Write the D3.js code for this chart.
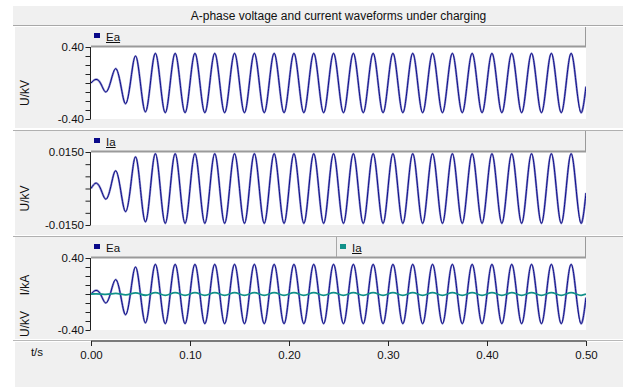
<!DOCTYPE html>
<html><head><meta charset="utf-8">
<script src="https://cdn.jsdelivr.net/npm/d3@7"></script>
<style>
body{margin:0;background:#fff;}
svg{display:block;font-family:"Liberation Sans",Arial,sans-serif;}
</style>
</head><body>
<svg id="chart" width="623" height="387"></svg>
<script>
// ---------- data ----------
const chartTitle = "A-phase voltage and current waveforms under charging";
const sampleStep = 0.005;            // seconds between samples (t = 0 … 0.50)
const xTickValues = [0, 0.1, 0.2, 0.3, 0.4, 0.5];
const xTickLabels = ["0.00", "0.10", "0.20", "0.30", "0.40", "0.50"];
const xAxisTitle = "t/s";

// Ea (kV)
const eaValues = [
  0, 0.04, -0.01, -0.10, 0.02, 0.16, -0.02, -0.23, 0.02, 0.30, -0.01, -0.32,
  0, 0.33, 0, -0.33, 0, 0.33, 0, -0.33, 0, 0.33, 0, -0.33, 0, 0.33, 0, -0.33,
  0, 0.33, 0, -0.33, 0, 0.33, 0, -0.33, 0, 0.33, 0, -0.33, 0, 0.33, 0, -0.33,
  0, 0.33, 0, -0.33, 0, 0.33, 0, -0.33, 0, 0.33, 0, -0.33, 0, 0.33, 0, -0.33,
  0, 0.33, 0, -0.33, 0, 0.33, 0, -0.33, 0, 0.33, 0, -0.33, 0, 0.33, 0, -0.33,
  0, 0.33, 0, -0.33, 0, 0.33, 0, -0.33, 0, 0.33, 0, -0.33, 0, 0.33, 0, -0.33,
  0, 0.33, 0, -0.33, 0, 0.33, 0, -0.33,
  -0.04
];
// Ia (kA)
const iaValues = [
  0, 0.0022, -0.0004, -0.0044, 0.0008, 0.0073, -0.0008, -0.0095, 0.0008, 0.0130, -0.0004, -0.0137,
  0, 0.0143, 0, -0.0143, 0, 0.0143, 0, -0.0143, 0, 0.0143, 0, -0.0143, 0, 0.0143, 0, -0.0143,
  0, 0.0143, 0, -0.0143, 0, 0.0143, 0, -0.0143, 0, 0.0143, 0, -0.0143, 0, 0.0143, 0, -0.0143,
  0, 0.0143, 0, -0.0143, 0, 0.0143, 0, -0.0143, 0, 0.0143, 0, -0.0143, 0, 0.0143, 0, -0.0143,
  0, 0.0143, 0, -0.0143, 0, 0.0143, 0, -0.0143, 0, 0.0143, 0, -0.0143, 0, 0.0143, 0, -0.0143,
  0, 0.0143, 0, -0.0143, 0, 0.0143, 0, -0.0143, 0, 0.0143, 0, -0.0143, 0, 0.0143, 0, -0.0143,
  0, 0.0143, 0, -0.0143, 0, 0.0143, 0, -0.0143,
  -0.0018
];

const panel1YDomain = [-0.40, 0.40];
const panel1YTicks = [-0.4, -0.3, -0.2, -0.1, 0, 0.1, 0.2, 0.3, 0.4];
const panel1YLabels = ["-0.40", "0.40"];
const panel2YDomain = [-0.0150, 0.0150];
const panel2YTicks = [-0.015, -0.01, -0.005, 0, 0.005, 0.01, 0.015];
const panel2YLabels = ["-0.0150", "0.0150"];
const panel3YDomain = [-0.40, 0.40];
const panel3YTicks = [-0.4, -0.3, -0.2, -0.1, 0, 0.1, 0.2, 0.3, 0.4];
const panel3YLabels = ["-0.40", "0.40"];

const seriesNames = ["Ea", "Ia"];
const seriesColors = {Ea: "#0a0a8a", Ia: "#11918a"};

// ---------- layout ----------
const W = 623, H = 387;
const plotLeft = 91, plotRight = 586;
const GRAY = "#f0f0f0";
const svg = d3.select("#chart");

const x = d3.scaleLinear().domain([0, 0.5]).range([plotLeft, plotRight]);
const seriesPoints = vals => vals.map((v, i) => [i * sampleStep, v]);

// title bar
svg.append("rect").attr("x", 13).attr("y", 6).attr("width", W - 13).attr("height", 19).attr("fill", GRAY);
svg.append("line").attr("x1", 13).attr("x2", W).attr("y1", 25.5).attr("y2", 25.5).attr("stroke", "#a8a8a8");
svg.append("text").attr("x", (plotLeft + plotRight) / 2).attr("y", 16).attr("text-anchor", "middle")
  .attr("dominant-baseline", "central").attr("font-size", 12).attr("fill", "#111").text(chartTitle);

const panels = [
  {bgTop: 27, bgBottom: 128, plotTop: 47, plotBottom: 119, domain: panel1YDomain, ticks: panel1YTicks,
   labels: panel1YLabels, yTitle: ["U/kV"], series: [{name: "Ea", vals: eaValues}],
   legend: [{name: "Ea", x: 94, underline: true}]},
  {bgTop: 131, bgBottom: 235, plotTop: 152, plotBottom: 225, domain: panel2YDomain, ticks: panel2YTicks,
   labels: panel2YLabels, yTitle: ["U/kV"], series: [{name: "Ia", vals: iaValues, color: seriesColors.Ea}],
   legend: [{name: "Ia", x: 94, underline: true, color: seriesColors.Ea}]},
  {bgTop: 237, bgBottom: 339, plotTop: 258, plotBottom: 330, domain: panel3YDomain, ticks: panel3YTicks,
   labels: panel3YLabels, yTitle: ["U/kV", "I/kA"],
   series: [{name: "Ea", vals: eaValues}, {name: "Ia", vals: iaValues}],
   legend: [{name: "Ea", x: 94, underline: false}, {name: "Ia", x: 340, underline: true, divider: 336.5}]}
];

// separators between panels
[130.5, 236.5].forEach(yy => {
  svg.append("line").attr("x1", 13).attr("x2", W).attr("y1", yy).attr("y2", yy).attr("stroke", "#b0b0b0");
});

panels.forEach((p, pi) => {
  const g = svg.append("g");
  g.append("rect").attr("x", 15).attr("y", p.bgTop).attr("width", W - 15).attr("height", p.bgBottom - p.bgTop).attr("fill", GRAY);
  // legend strip borders
  g.append("line").attr("x1", plotRight - 0.5).attr("x2", plotRight - 0.5).attr("y1", p.bgTop).attr("y2", p.plotTop)
    .attr("stroke", "#9a9a9a").attr("stroke-width", 1);
  // plot area
  g.append("rect").attr("x", plotLeft).attr("y", p.plotTop).attr("width", plotRight - plotLeft)
    .attr("height", p.plotBottom - p.plotTop).attr("fill", "#fff");
  g.append("line").attr("x1", plotLeft).attr("x2", plotRight).attr("y1", p.plotTop - 0.5).attr("y2", p.plotTop - 0.5)
    .attr("stroke", "#9a9a9a").attr("stroke-width", 2);

  const y = d3.scaleLinear().domain(p.domain).range([p.plotBottom, p.plotTop]);

  // y axis
  const axis = d3.axisLeft(y).tickValues(p.ticks).tickSize(5).tickFormat(() => "");
  const ag = g.append("g").attr("transform", `translate(${plotLeft - 0.5},0)`).call(axis);
  ag.select(".domain").attr("stroke", "#222").attr("d", `M0,${p.plotTop}V${p.plotBottom}`);
  ag.selectAll(".tick line").attr("stroke", "#222");
  // end labels
  [[p.domain[1], p.labels[1]], [p.domain[0], p.labels[0]]].forEach(([v, lab]) => {
    g.append("text").attr("x", 84).attr("y", y(v)).attr("text-anchor", "end").attr("dominant-baseline", "central")
      .attr("font-size", 11.5).attr("fill", "#111").text(lab);
  });

  // y title
  const cy = (p.plotTop + p.plotBottom) / 2 + 10;
  if (p.yTitle.length === 1) {
    g.append("text").attr("transform", `translate(29,${cy}) rotate(-90)`).attr("text-anchor", "middle")
      .attr("font-size", 12).attr("fill", "#111").text(p.yTitle[0]);
  } else {
    g.append("text").attr("transform", `translate(29,${p.plotBottom - 6}) rotate(-90)`).attr("text-anchor", "middle")
      .attr("font-size", 12).attr("fill", "#111").text(p.yTitle[0]);
    g.append("text").attr("transform", `translate(29,${p.plotTop + 27}) rotate(-90)`).attr("text-anchor", "middle")
      .attr("font-size", 12).attr("fill", "#111").text(p.yTitle[1]);
  }

  // legend
  p.legend.forEach(l => {
    const col = l.color || seriesColors[l.name];
    if (l.divider) {
      g.append("line").attr("x1", l.divider).attr("x2", l.divider).attr("y1", p.bgTop).attr("y2", p.plotTop - 1)
        .attr("stroke", "#a8a8a8");
    }
    g.append("rect").attr("x", l.x).attr("y", p.plotTop - 14).attr("width", 6).attr("height", 5).attr("fill", col);
    const t = g.append("text").attr("x", l.x + 12).attr("y", p.plotTop - 6.5).attr("font-size", 11.5)
      .attr("fill", "#111").text(l.name);
    if (l.underline) {
      const w = t.node().getComputedTextLength();
      g.append("line").attr("x1", l.x + 12).attr("x2", l.x + 12 + w).attr("y1", p.plotTop - 4.5).attr("y2", p.plotTop - 4.5)
        .attr("stroke", "#111").attr("stroke-width", 1);
    }
  });

  // series
  const clipId = "clip" + pi;
  svg.append("clipPath").attr("id", clipId).append("rect").attr("x", plotLeft).attr("y", p.plotTop - 1)
    .attr("width", plotRight - plotLeft).attr("height", p.plotBottom - p.plotTop + 2);
  const line = d3.line().x(d => x(d[0])).y(d => y(d[1])).curve(d3.curveNatural);
  const sg = g.append("g").attr("clip-path", `url(#${clipId})`);
  p.series.forEach(s => {
    const col = s.color || seriesColors[s.name];
    const pts = seriesPoints(s.vals);
    if (col === seriesColors.Ea) {
      sg.append("path").attr("d", line(pts)).attr("fill", "none").attr("stroke", "#8e8ec8").attr("stroke-width", 2.2);
      sg.append("path").attr("d", line(pts)).attr("fill", "none").attr("stroke", col).attr("stroke-width", 1);
    } else {
      sg.append("path").attr("d", line(pts)).attr("fill", "none").attr("stroke", col).attr("stroke-width", 1.8);
    }
  });
});

// bottom x-axis area
svg.append("rect").attr("x", 15).attr("y", 342).attr("width", W - 15).attr("height", H - 342).attr("fill", GRAY);
svg.append("line").attr("x1", 13).attr("x2", W).attr("y1", 340.5).attr("y2", 340.5).attr("stroke", "#b8b8b8");
const xAxis = d3.axisBottom(x).tickValues(xTickValues).tickSize(5).tickFormat((d, i) => xTickLabels[i]);
const xg = svg.append("g").attr("transform", "translate(0,341)").call(xAxis);
xg.select(".domain").attr("stroke", "#7a7a7a").attr("stroke-width", 2).attr("d", `M${plotLeft},0H${plotRight}`);
xg.selectAll(".tick line").attr("stroke", "#222");
xg.selectAll(".tick text").attr("font-size", 11.5).attr("fill", "#111").attr("font-family", "Liberation Sans, Arial, sans-serif")
  .attr("y", 10).attr("dy", "0.71em");
svg.append("text").attr("x", 37).attr("y", 356).attr("text-anchor", "middle").attr("font-size", 11.5)
  .attr("fill", "#111").text(xAxisTitle);
</script>
</body></html>
